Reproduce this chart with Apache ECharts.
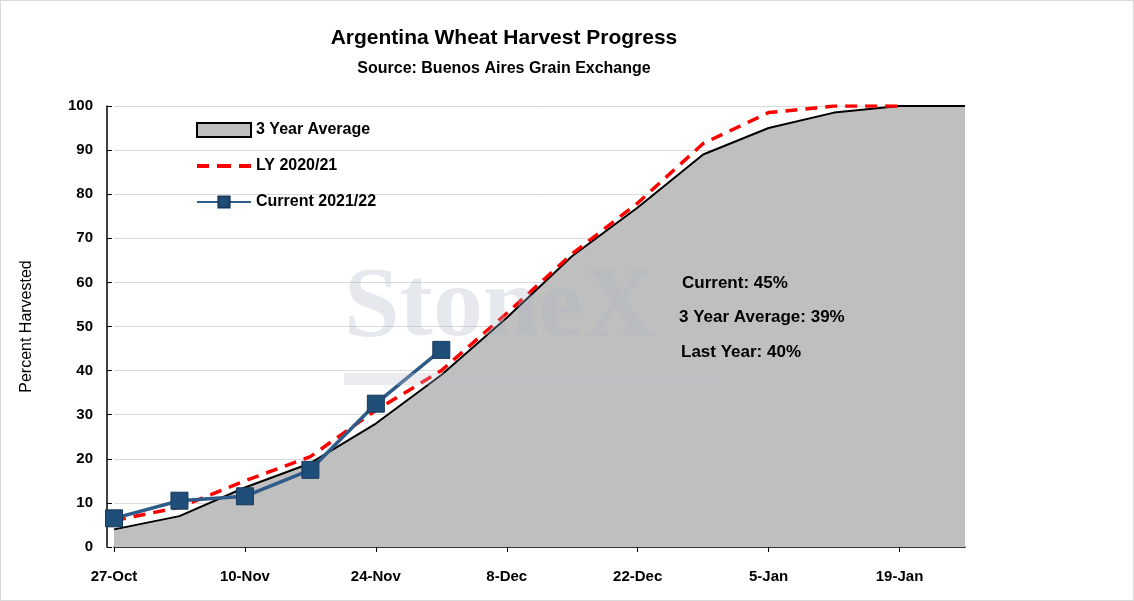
<!DOCTYPE html>
<html><head><meta charset="utf-8">
<script src="https://cdn.jsdelivr.net/npm/echarts@6/dist/echarts.min.js"></script>
<style>html,body{margin:0;padding:0;background:#fff}#c{width:1134px;height:601px;box-sizing:border-box;border:1px solid #d9d9d9}</style>
</head><body><div id="c"></div>
<script>
const categories=['27-Oct','3-Nov','10-Nov','17-Nov','24-Nov','1-Dec','8-Dec','15-Dec','22-Dec','29-Dec','5-Jan','12-Jan','19-Jan','26-Jan'];
const avg3=[4,7,13.5,19,28,39,52,66,77,89,95,98.5,100,100];
const ly=[6,9,15,20.5,31,40,53,66.5,78,91.5,98.5,100,100,null];
const current=[6.5,10.5,11.5,17.5,32.5,44.7];
const F='"Liberation Sans", Arial, sans-serif';
const ch=echarts.init(document.getElementById('c'));
ch.setOption({
 animation:false,
 title:{text:'Argentina Wheat Harvest Progress',subtext:'Source: Buenos Aires Grain Exchange',left:498,textAlign:'center',top:22,
  textStyle:{fontFamily:F,fontWeight:'bold',fontSize:21,color:'#000'},
  subtextStyle:{fontFamily:F,fontWeight:'bold',fontSize:16,color:'#000'},itemGap:12},
 grid:{left:113,right:168,top:105,bottom:53},
 legend:{orient:'vertical',left:190,top:116,itemGap:20,itemWidth:54,itemHeight:14,
  textStyle:{fontFamily:F,fontWeight:'bold',fontSize:16,color:'#000'},
  data:[{name:'3 Year Average',icon:'rect'},
        {name:'LY 2020/21',icon:'path://M0,0h12v4h-12zM20,0h14v4h-14zM42,0h12v4h-12z',itemStyle:{color:'#ff0000',borderWidth:0}},
        {name:'Current 2021/22'}]},
 xAxis:{type:'category',data:categories,boundaryGap:false,
  axisLine:{lineStyle:{color:'#000',width:1.5}},axisTick:{show:true,interval:1,lineStyle:{color:'#000'}},
  axisLabel:{interval:1,margin:22,fontFamily:F,fontWeight:'bold',fontSize:15,color:'#000'}},
 yAxis:{type:'value',min:0,max:100,interval:10,offset:7,name:'Percent Harvested',nameLocation:'middle',nameGap:72,
  nameTextStyle:{fontFamily:F,fontSize:16,color:'#000'},
  axisLine:{show:true,lineStyle:{color:'#000',width:1.5}},axisTick:{show:true,inside:true,lineStyle:{color:'#000'}},
  splitLine:{lineStyle:{color:'#d9d9d9'}},
  axisLabel:{fontFamily:F,fontWeight:'bold',fontSize:15,color:'#000',margin:14}},
 graphic:[
  {type:'text',left:343,top:258,z:1,zlevel:1,style:{text:'StoneX',fontFamily:'"Liberation Serif",serif',fontSize:100,fontWeight:'bold',fill:'rgba(170,182,200,0.3)'}},
  {type:'rect',zlevel:1,shape:{x:343,y:372,width:375,height:12},style:{fill:'rgba(190,190,205,0.3)'}},
  {type:'text',zlevel:1,left:681,top:274,style:{text:'Current: 45%',fontFamily:F,fontWeight:'bold',fontSize:17,fill:'#000'}},
  {type:'text',zlevel:1,left:678,top:308,style:{text:'3 Year Average: 39%',fontFamily:F,fontWeight:'bold',fontSize:17,fill:'#000'}},
  {type:'text',zlevel:1,left:680,top:343,style:{text:'Last Year: 40%',fontFamily:F,fontWeight:'bold',fontSize:17,fill:'#000'}}
 ],
 series:[
  {name:'3 Year Average',type:'line',data:avg3,symbol:'none',itemStyle:{color:'#bfbfbf',borderColor:'#000',borderWidth:1},
   lineStyle:{color:'#000',width:2},areaStyle:{color:'#bfbfbf',opacity:1},z:2},
  {name:'LY 2020/21',type:'line',data:ly,symbol:'none',itemStyle:{color:'#ff0000'},lineStyle:{color:'#ff0000',width:3.5,type:[12,8]},z:3},
  {name:'Current 2021/22',type:'line',data:current,symbol:'rect',symbolSize:17,
   itemStyle:{color:'#1f4e79',borderColor:'#1a3a5c',borderWidth:1},lineStyle:{color:'#2e5b88',width:3.5},z:4}
 ]
});
</script></body></html>
